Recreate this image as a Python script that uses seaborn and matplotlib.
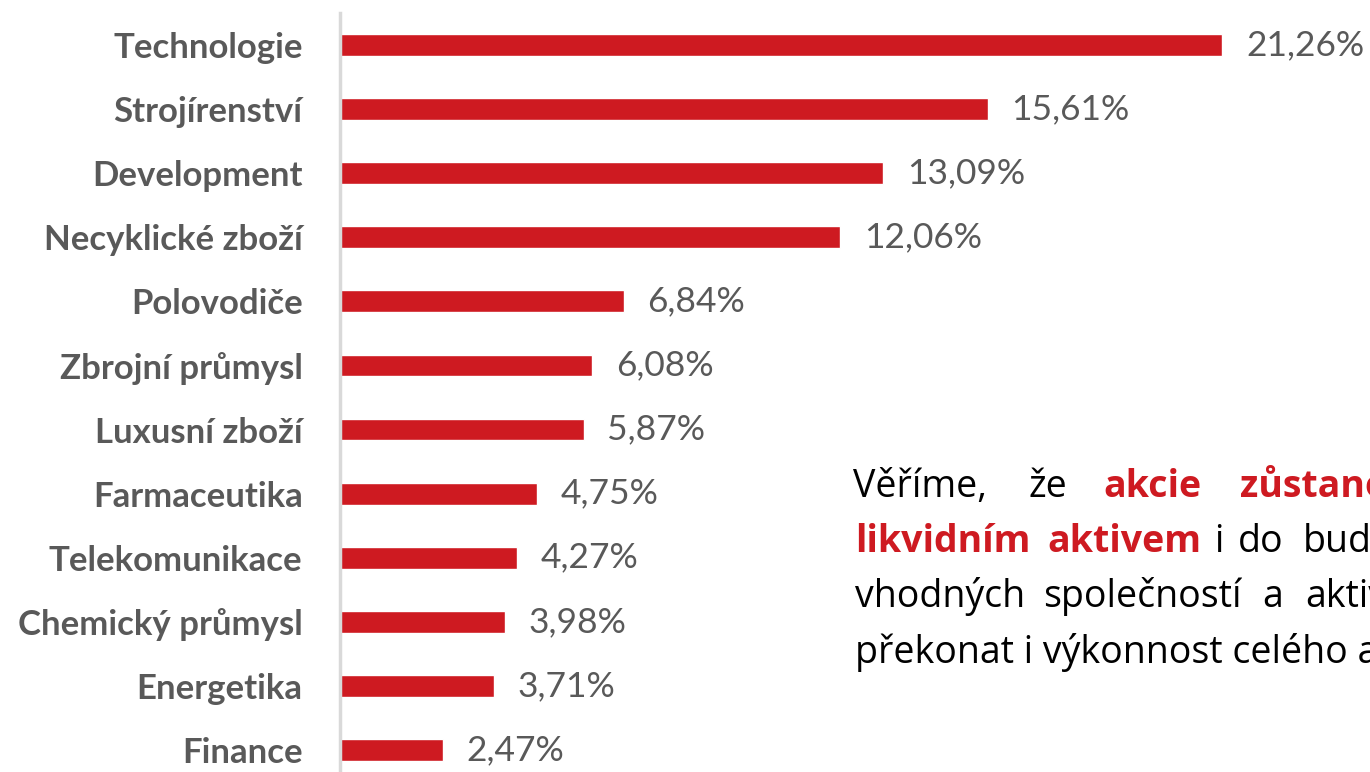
import matplotlib
matplotlib.use('Agg')
import matplotlib.pyplot as plt
import seaborn as sns

sectors = ["Technologie", "Strojírenství", "Development", "Necyklické zboží",
           "Polovodiče", "Zbrojní průmysl", "Luxusní zboží", "Farmaceutika",
           "Telekomunikace", "Chemický průmysl", "Energetika", "Finance"]
shares = [21.26, 15.61, 13.09, 12.06, 6.84, 6.08, 5.87, 4.75, 4.27, 3.98, 3.71, 2.47]

RED = "#CE1A21"
GRAY = "#595959"

sns.set_style("white")
plt.rcParams['font.family'] = ['Lato', 'DejaVu Sans']

W, H = 1370, 772
fig = plt.figure(figsize=(W / 100, H / 100), dpi=100)
ax = fig.add_axes([340 / W, -10 / H, 1030 / W, 769 / H])

sns.barplot(x=shares, y=sectors, orient="h", color=RED, saturation=1,
            width=0.34, ax=ax)

ax.set_xlim(0, 1030 / 41.5)
ax.set_xlabel("")
ax.set_ylabel("")
ax.set_xticks([])
for s in ["top", "right", "bottom"]:
    ax.spines[s].set_visible(False)
ax.spines["left"].set_color("#D9D9D9")
ax.spines["left"].set_linewidth(2.5)
ax.tick_params(axis="y", length=0, pad=27, labelsize=25, labelcolor=GRAY)
for lbl in ax.get_yticklabels():
    lbl.set_fontweight("bold")

for i, v in enumerate(shares):
    ax.text(v + 0.57, i, f"{v:.2f}%".replace(".", ","), va="center", ha="left",
            fontsize=25.5, color=GRAY)

# justified paragraph on the right, cut by the figure edge as in the original
body = [
    (497, [("Věříme,", 853, False), ("že", 1028, False), ("akcie", 1103, True),
           ("zůstanou", 1240, True)]),
    (552, [("likvidním", 855, True), ("aktivem", 1047, True), ("i", 1214, False),
           ("do", 1238, False), ("budoucna", 1303, False)]),
    (607, [("vhodných", 855, False), ("společností", 1043, False), ("a", 1262, False),
           ("aktivním", 1305, False)]),
    (663, [("překonat i výkonnost celého akciového trhu.", 855, False)]),
]
for y, words in body:
    for word, x, bold in words:
        fig.text(x / W, 1 - y / H, word, fontsize=27, family=["Open Sans", "DejaVu Sans"],
                 color=RED if bold else "black", fontweight="bold" if bold else "normal",
                 ha="left", va="baseline")

fig.savefig("out.png", dpi=100)
